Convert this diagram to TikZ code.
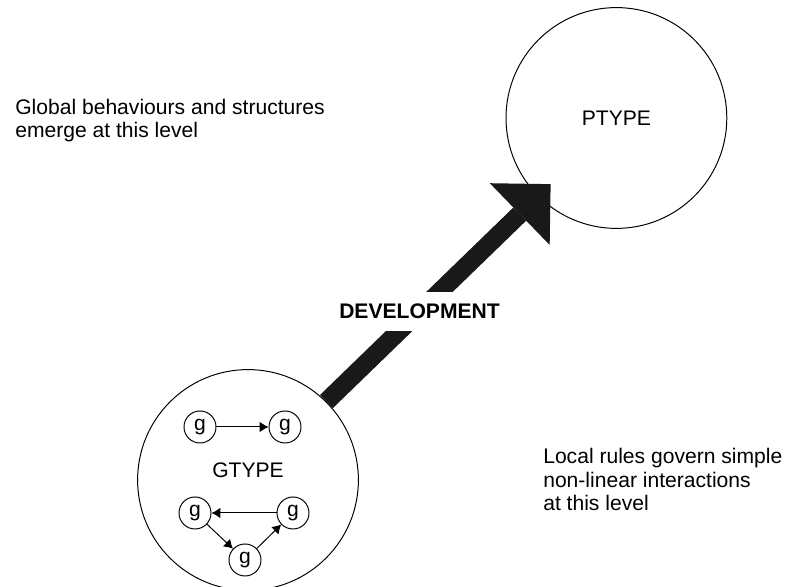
\documentclass[tikz,border=0pt]{standalone}
\usepackage{fontspec}
\setmainfont{Liberation Sans}
\usepackage{tikz}
\usetikzlibrary{arrows.meta}

\tikzset{
    level/.style={circle,draw,line width=0.7pt,minimum size=5.52cm,inner sep=0pt},
    gene/.style={circle,draw,line width=0.7pt,minimum size=0.8cm,inner sep=0pt},
    link/.style={line width=0.7pt,-{Latex[length=0.22cm,width=0.26cm]}},
    devarrow/.style={line width=0.46cm,black!90,-{Triangle[length=1.075cm,width=2.15cm,line width=0pt]}}
}

\begin{document}
\begin{tikzpicture}[font=\fontsize{15pt}{17pt}\selectfont]
        \useasboundingbox (0,0) rectangle (19.65,14.675);
        \node[level] (ptype) at (15.41,11.725) {PTYPE};
        \node[level] (gtype) at (6.2,2.675) {};
        \node (glabel) at (6.2,2.925) {GTYPE};
        \node[gene] (g1) at (5.0,4.0) {g};
        \node[gene] (g2) at (7.125,4.0) {g};
        \node[gene] (g3) at (4.875,1.85) {g};
        \node[gene] (g4) at (7.325,1.85) {g};
        \node[gene] (g5) at (6.125,0.675) {g};
        \draw[link] (g1) -- (g2); % top pair
        \draw[link] (g4) -- (g3); % right - left
        \draw[link] (g3) -- (g5); % left - bottom
        \draw[link] (g5) -- (g4); % bottom - right
        \draw[devarrow,shorten >=-0.44cm] (gtype.45) -- (ptype.225)
            node[pos=0.44,fill=white,text=black,minimum height=0.975cm,inner xsep=1pt,
                 font=\fontsize{15pt}{17pt}\selectfont\bfseries] (dev) {DEVELOPMENT};
        % base is the last line of each text block
        \node[anchor=base west,align=left,inner sep=0pt] (global) at (0.375,11.225)
            {Global behaviours and structures\\emerge at this level};
        \node[anchor=base west,align=left,inner sep=0pt] (local) at (13.575,1.9)
            {Local rules govern simple\\non-linear interactions\\at this level};
    \end{tikzpicture}
\end{document}
